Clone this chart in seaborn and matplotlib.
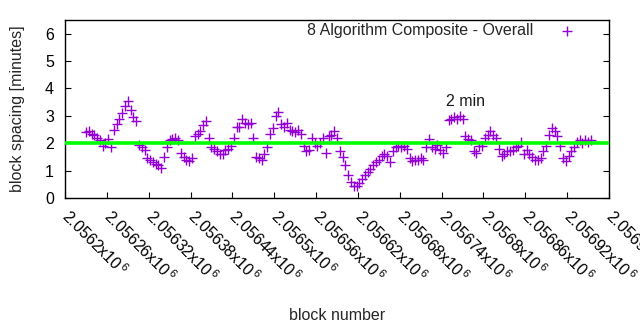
import numpy as np
import pandas as pd
import matplotlib
matplotlib.use("Agg")
import matplotlib.pyplot as plt
import matplotlib.transforms as mtransforms
import seaborn as sns

# ---- data ----
first_block = 2056230
block_step = 4
spacing = [
    2.40, 2.45, 2.35, 2.30, 2.20, 2.10, 1.90, 2.00, 2.15, 1.85,
    2.50, 2.70, 2.90, 3.10, 3.35, 3.55, 3.20, 2.95, 2.80, 1.95,
    1.85, 1.75, 1.45, 1.40, 1.30, 1.25, 1.20, 1.10, 1.50, 1.85,
    2.10, 2.15, 2.20, 2.10, 1.65, 1.50, 1.40, 1.35, 1.45, 2.25,
    2.35, 2.45, 2.65, 2.80, 2.20, 1.85, 1.80, 1.70, 1.60, 1.60,
    1.75, 1.80, 1.90, 2.20, 2.60, 2.60, 2.90, 2.75, 2.70, 2.75,
    2.20, 1.50, 1.45, 1.40, 1.60, 1.85, 2.35, 2.55, 3.00, 3.15,
    2.70, 2.60, 2.75, 2.50, 2.45, 2.40, 2.50, 2.35, 1.90, 1.70,
    1.75, 2.20, 2.00, 1.90, 2.00, 2.20, 1.65, 2.25, 2.30, 2.45,
    2.20, 1.70, 1.50, 1.20, 0.85, 0.60, 0.45, 0.42, 0.55, 0.70,
    0.85, 0.95, 1.05, 1.20, 1.30, 1.40, 1.55, 1.60, 1.55, 1.30,
    1.70, 1.85, 1.90, 1.85, 1.90, 1.80, 1.45, 1.35, 1.40, 1.40,
    1.45, 1.40, 1.85, 2.15, 1.85, 1.80, 1.95, 1.75, 1.65, 1.85,
    2.85, 2.90, 2.95, 2.90, 3.00, 2.90, 2.25, 2.15, 2.10, 1.70,
    1.65, 1.90, 1.90, 2.20, 2.30, 2.45, 2.30, 2.20, 1.80, 1.55,
    1.60, 1.70, 1.70, 1.75, 1.85, 1.90, 2.05, 1.60, 1.75, 1.60,
    1.50, 1.40, 1.40, 1.45, 1.70, 1.90, 2.30, 2.55, 2.45, 2.25,
    1.90, 1.45, 1.35, 1.55, 1.70, 1.85, 2.05, 2.10, 2.00, 2.10,
    2.05, 2.10,
]
blocks = [first_block + block_step * i for i in range(len(spacing))]

target_minutes = 2.0
series_label = "8 Algorithm Composite - Overall"
annotation_text = "2 min"
annotation_pos = (2056747, 3.52)

x_min, x_max = 2056200, 2056980
x_ticks = list(range(2056200, 2056981, 60))
x_tick_labels = [
    "2.0562", "2.05626", "2.05632", "2.05638", "2.05644", "2.0565",
    "2.05656", "2.05662", "2.05668", "2.05674", "2.0568", "2.05686",
    "2.05692", "2.05698",
]
y_ticks = [0, 1, 2, 3, 4, 5, 6]

df = pd.DataFrame({"block": blocks, "spacing": spacing})

# ---- style ----
sns.set_theme(style="white")
plt.rcParams["font.family"] = ["Liberation Sans", "DejaVu Sans"]
plt.rcParams["mathtext.fontset"] = "custom"
plt.rcParams["mathtext.rm"] = "Liberation Sans"
plt.rcParams["mathtext.it"] = "Liberation Sans"
fs = 11.5

fig = plt.figure(figsize=(6.4, 3.3), dpi=100)
ax = fig.add_axes([65 / 640, 1 - 198 / 330, 544 / 640, 178 / 330])

sns.scatterplot(
    data=df, x="block", y="spacing", ax=ax, marker="+", s=55,
    color="#9400D3", linewidth=1.0, label=series_label, zorder=2,
)
ax.axhline(target_minutes, color="#00FF00", lw=2.6, zorder=3)

ax.text(annotation_pos[0], annotation_pos[1], annotation_text,
        ha="left", va="center", fontsize=fs, color="#1a1a1a")

ax.set_xlim(x_min, x_max)
ax.set_ylim(0, 6.5)
ax.set_yticks(y_ticks)
ax.set_yticklabels([str(v) for v in y_ticks], fontsize=fs)
ax.set_xticks(x_ticks)
ax.set_xticklabels([f"{t}x10$^{{\\,6}}$" for t in x_tick_labels], fontsize=fs,
                   rotation=-45, ha="left", va="center", rotation_mode="anchor")
shift = mtransforms.ScaledTranslation(2 / 100, 0, fig.dpi_scale_trans)
for lab in ax.get_xticklabels():
    lab.set_transform(lab.get_transform() + shift)

ax.tick_params(axis="y", direction="in", length=4, width=0.8, pad=8,
               left=True, right=True, colors="black")
ax.tick_params(axis="x", direction="in", length=4, width=0.8, pad=11,
               bottom=True, top=False, colors="black")
for sp in ax.spines.values():
    sp.set_color("black")
    sp.set_linewidth(1.0)

ax.set_xlabel("block number", fontsize=fs)
ax.set_ylabel("block spacing [minutes]", fontsize=fs)
ax.xaxis.set_label_coords(0.5, (198 - 308) / 178)
ax.xaxis.label.set_va("top")
ax.yaxis.set_label_coords((10 - 65) / 544, 0.5)
ax.yaxis.label.set_va("top")

leg = ax.legend(loc="upper right", bbox_to_anchor=(0.958, 1.0),
                frameon=False, markerfirst=False, fontsize=fs,
                handlelength=2.0, handletextpad=1.1, borderpad=0.2,
                borderaxespad=0.0)

fig.savefig("out.png", dpi=100)
